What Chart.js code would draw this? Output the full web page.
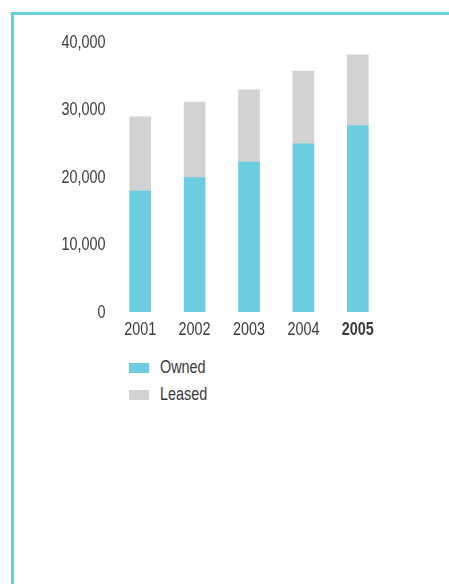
<!DOCTYPE html>
<html>
<head>
<meta charset="utf-8">
<script src="https://cdn.jsdelivr.net/npm/chart.js@4"></script>
<style>
  html, body { margin: 0; padding: 0; background: #fff; }
  body { width: 449px; height: 584px; position: relative; overflow: hidden; }
  .frame {
    position: absolute; left: 11px; top: 12px; right: 0; bottom: 0;
    border-top: 3px solid #6ccde1; border-left: 3px solid #6ccde1;
  }
  #wrap { position: absolute; left: 0; top: 0; width: 449px; height: 345px; }
  #legend { position: absolute; left: 129px; top: 356px; font-family: "Liberation Sans", Arial, sans-serif; font-size: 18px; color: #3a3a3a; }
  .item { position: relative; height: 27px; width: 200px; }
  .item .box { position: absolute; left: 0; top: 7px; width: 20px; height: 10px; }
  .item .txt { position: absolute; left: 31px; top: 1px; line-height: 20px; white-space: nowrap; transform: scaleX(0.8); transform-origin: 0 0; }
</style>
</head>
<body>
<div class="frame"></div>
<div id="wrap"><canvas id="chart"></canvas></div>
<div id="legend"></div>
<script>
// Vehicles by year
const years = ['2001', '2002', '2003', '2004', '2005'];
const owned = [17900, 19900, 22200, 24900, 27600];
const leased = [11000, 11200, 10700, 10800, 10500];
const yTicks = [0, 10000, 20000, 30000, 40000];

const blue = '#6ccde1';
const grey = '#d1d2d4';
const textColor = '#3a3a3a';
const family = '"Liberation Sans", Arial, sans-serif';

// draw text squeezed horizontally to get a condensed face
function narrowText(ctx, text, x, y, align, bold) {
    ctx.save();
    ctx.translate(x, y);
    ctx.scale(0.8, 1);
    ctx.font = (bold ? 'bold ' : '') + '18px ' + family;
    ctx.textAlign = align;
    ctx.textBaseline = 'middle';
    ctx.fillStyle = textColor;
    ctx.fillText(text, 0, 0);
    ctx.restore();
}

const narrowLabels = {
    id: 'narrowLabels',
    afterDraw(chart) {
        const ctx = chart.ctx;
        const x = chart.scales.x;
        const y = chart.scales.y;
        y.ticks.forEach((t, i) => {
            narrowText(ctx, t.value.toLocaleString('en-US'), 105.5, y.getPixelForTick(i) + 1, 'right', false);
        });
        x.ticks.forEach((t, i) => {
            narrowText(ctx, chart.data.labels[i], x.getPixelForTick(i), 330, 'center', i === 4);
        });
    }
};

const config = {
    type: 'bar',
    data: {
        labels: years,
        datasets: [
            { label: 'Owned', data: owned, backgroundColor: blue, barThickness: 21 },
            { label: 'Leased', data: leased, backgroundColor: grey, barThickness: 21 }
        ]
    },
    options: {
        responsive: true,
        maintainAspectRatio: false,
        animation: false,
        layout: { padding: { left: 0, right: 64, top: 42, bottom: 3 } },
        plugins: { legend: { display: false }, tooltip: { enabled: false } },
        scales: {
            x: {
                stacked: true,
                afterFit: axis => { axis.height = 30; },
                grid: { display: false, drawTicks: false },
                border: { display: false },
                ticks: { display: false }
            },
            y: {
                stacked: true,
                min: 0,
                max: 40000,
                afterBuildTicks: axis => { axis.ticks = yTicks.map(v => ({ value: v })); },
                afterFit: axis => { axis.width = 113; },
                grid: { display: false, drawTicks: false },
                border: { display: false },
                ticks: { display: false }
            }
        }
    },
    plugins: [narrowLabels]
};

const chart = new Chart(document.getElementById('chart'), config);

// legend as a vertical list
const legend = document.getElementById('legend');
chart.data.datasets.forEach(ds => {
    const item = document.createElement('div');
    item.className = 'item';
    item.innerHTML = '<span class="box" style="background:' + ds.backgroundColor + '"></span><span class="txt">' + ds.label + '</span>';
    legend.appendChild(item);
});
</script>
</body>
</html>
